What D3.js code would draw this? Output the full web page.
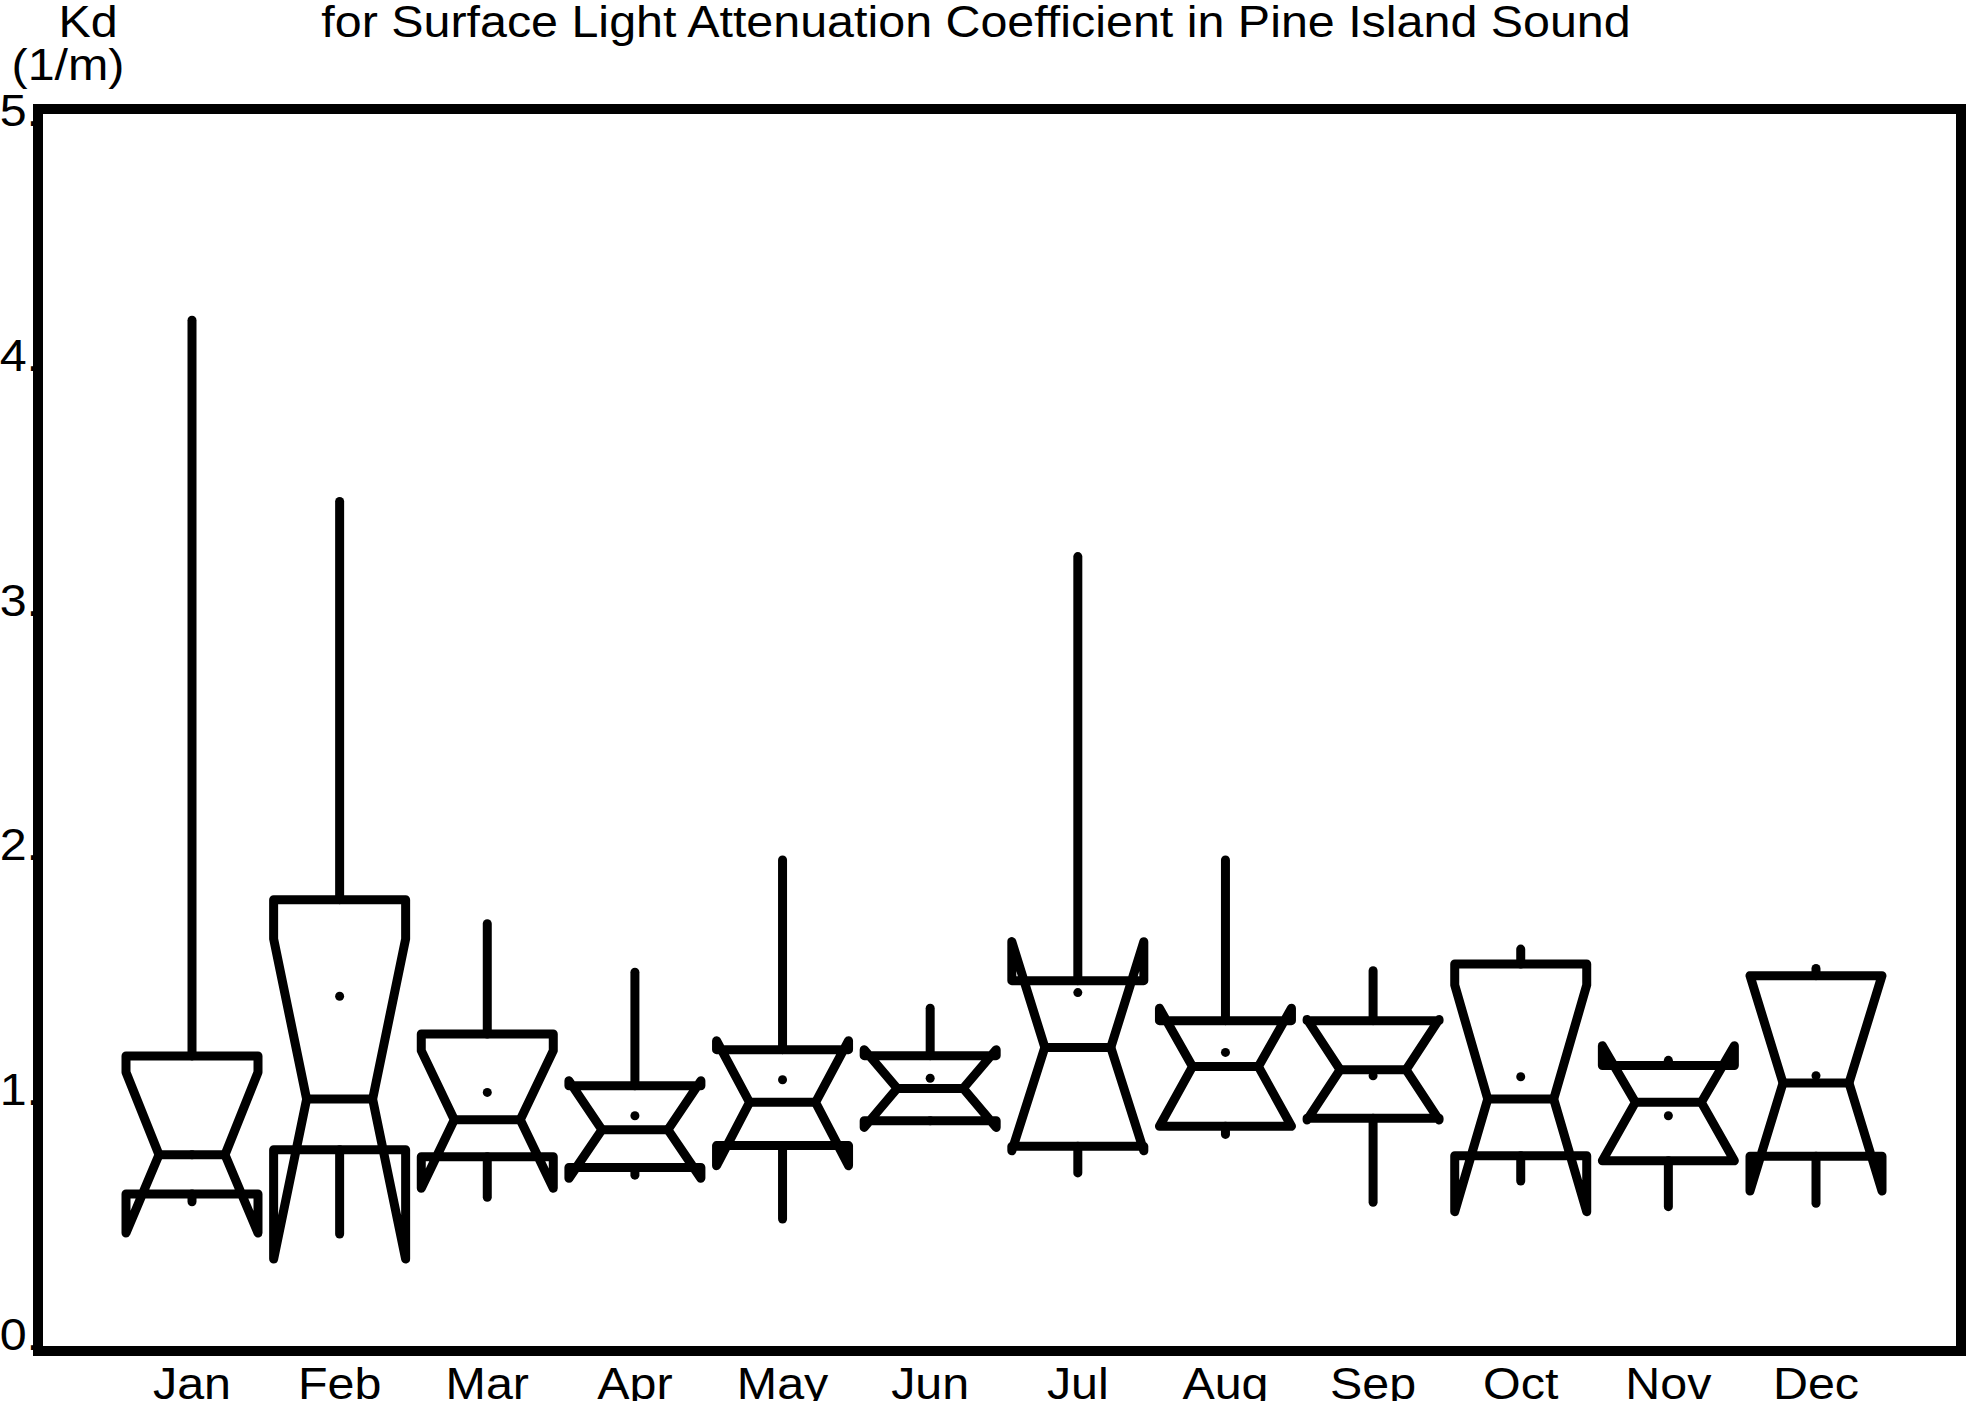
<!DOCTYPE html>
<html>
<head>
<meta charset="utf-8">
<script src="https://cdn.jsdelivr.net/npm/d3@7"></script>
<style>
  html, body { margin: 0; padding: 0; background: #fff; }
  svg { display: block; }
  text { font-family: "Liberation Sans", Arial, sans-serif; fill: #000; }
</style>
</head>
<body>
<svg id="chart" width="1974" height="1401"></svg>
<script>
// ---- data (Kd, 1/m) ----
const months = ["Jan","Feb","Mar","Apr","May","Jun","Jul","Aug","Sep","Oct","Nov","Dec"];
const maxV    = [4.15, 3.42, 1.72, 1.525, 1.977, 1.38, 3.198, 1.977, 1.531, 1.618, 1.17, 1.54];
const q3V     = [1.188, 1.817, 1.276, 1.068, 1.213, 1.189, 1.491, 1.330, 1.330, 1.558, 1.149, 1.511];
const notchHi = [1.122, 1.659, 1.209, 1.088, 1.249, 1.213, 1.648, 1.380, 1.335, 1.473, 1.229, 1.511];
const medV    = [0.790, 1.014, 0.931, 0.891, 1.001, 1.057, 1.222, 1.145, 1.132, 1.014, 1.001, 1.079];
const notchLo = [0.475, 0.370, 0.655, 0.695, 0.746, 0.900, 0.806, 0.905, 0.930, 0.561, 0.766, 0.644];
const q1V     = [0.632, 0.810, 0.782, 0.739, 0.827, 0.927, 0.824, 0.905, 0.937, 0.786, 0.766, 0.784];
const minV    = [0.601, 0.471, 0.619, 0.708, 0.531, 0.927, 0.717, 0.872, 0.599, 0.684, 0.581, 0.595];
const meanV   = [0.790, 1.428, 1.041, 0.947, 1.092, 1.098, 1.443, 1.202, 1.108, 1.104, 0.947, 1.108];
const yTicks  = [0, 1, 2, 3, 4, 5];
const yTickLabels = ["0.", "1.", "2.", "3.", "4.", "5."];
const titleText = "for Surface Light Attenuation Coefficient in Pine Island Sound";
const yLabel1 = "Kd";
const yLabel2 = "(1/m)";

// ---- layout ----
const frame = {x0: 38, x1: 1961, y0: 109, y1: 1351};
const svg = d3.select("#chart");
const y = d3.scaleLinear().domain([0, 5]).range([frame.y1, frame.y0]);
const yLab = d3.scaleLinear().domain([0, 5]).range([1350, 126]); // label baselines
const x = d3.scalePoint().domain(months).range([192, 1816]);
const hw = 66, nw = 33, sw = 9, fs = 44, sx = 1.1;

svg.append("rect").attr("width", 1974).attr("height", 1401).attr("fill", "#fff");

function addText(parent, tx, ty, anchor, str) {
  return parent.append("text")
    .attr("transform", `translate(${tx},${ty}) scale(${sx},1)`)
    .attr("text-anchor", anchor)
    .attr("font-size", fs)
    .text(str);
}

// y tick labels (drawn under frame)
const gy = svg.append("g");
yTicks.forEach((d, i) => addText(gy, 40, yLab(d), "end", yTickLabels[i]));

// frame
svg.append("rect")
  .attr("x", frame.x0).attr("y", frame.y0)
  .attr("width", frame.x1 - frame.x0).attr("height", frame.y1 - frame.y0)
  .attr("fill", "none").attr("stroke", "#000").attr("stroke-width", 10);

// month labels
const gx = svg.append("g");
months.forEach(m => addText(gx, x(m), 1399, "middle", m));

// title & axis label
addText(svg, 976, 37, "middle", titleText);
addText(svg, 88, 37, "middle", yLabel1);
addText(svg, 68, 80, "middle", yLabel2);

// boxes
const boxes = months.map((m, i) => ({
  m, max: maxV[i], q3: q3V[i], nh: notchHi[i], med: medV[i],
  nl: notchLo[i], q1: q1V[i], min: minV[i], mean: meanV[i]
}));

const g = svg.append("g")
  .attr("stroke", "#000").attr("stroke-width", sw)
  .attr("stroke-linejoin", "round").attr("stroke-linecap", "round")
  .attr("fill", "none");

boxes.forEach(b => {
  const cx = x(b.m);
  const p = d3.path();
  p.moveTo(cx - hw, y(b.q3));
  p.lineTo(cx + hw, y(b.q3));
  p.lineTo(cx + hw, y(b.nh));
  p.lineTo(cx + nw, y(b.med));
  p.lineTo(cx + hw, y(b.nl));
  p.lineTo(cx + hw, y(b.q1));
  p.lineTo(cx - hw, y(b.q1));
  p.lineTo(cx - hw, y(b.nl));
  p.lineTo(cx - nw, y(b.med));
  p.lineTo(cx - hw, y(b.nh));
  p.closePath();
  g.append("path").attr("d", p.toString());
  // median line
  g.append("line").attr("x1", cx - nw).attr("x2", cx + nw)
    .attr("y1", y(b.med)).attr("y2", y(b.med));
  // whiskers
  g.append("line").attr("x1", cx).attr("x2", cx)
    .attr("y1", y(b.q3)).attr("y2", y(b.max));
  g.append("line").attr("x1", cx).attr("x2", cx)
    .attr("y1", y(b.q1)).attr("y2", y(b.min));
  // mean
  svg.append("circle").attr("cx", cx).attr("cy", y(b.mean)).attr("r", 4.5).attr("fill", "#000");
});
</script>
</body>
</html>
